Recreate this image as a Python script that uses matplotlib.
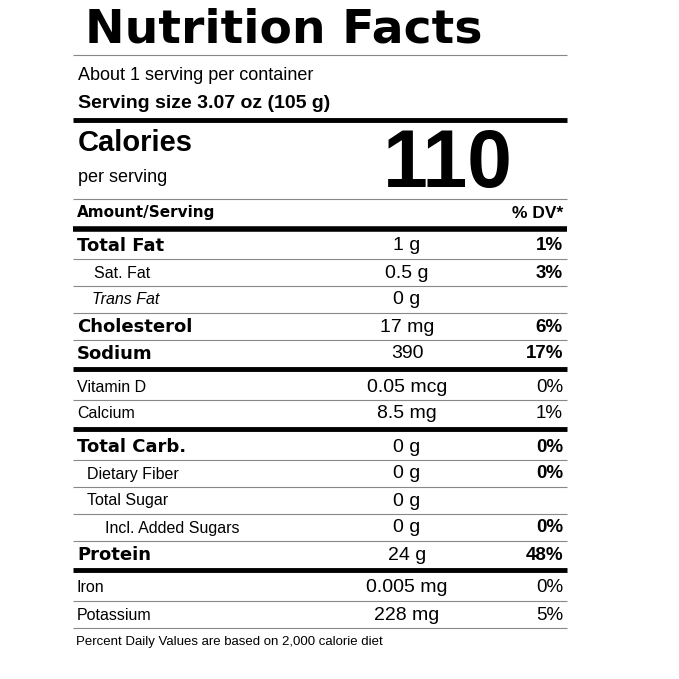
import matplotlib.pyplot as plt

nutrients = ["Total Fat", "Sat. Fat", "Trans Fat", "Cholesterol", "Sodium",
             "Vitamin D", "Calcium", "Total Carb.", "Dietary Fiber", "Total Sugar",
             "Incl. Added Sugars", "Protein", "Iron", "Potassium"]
amounts = ["1 g", "0.5 g", "0 g", "17 mg", "390", "0.05 mcg", "8.5 mg",
           "0 g", "0 g", "0 g", "0 g", "24 g", "0.005 mg", "228 mg"]
dv = ["1%", "3%", "", "6%", "17%", "0%", "1%", "0%", "0%", "", "0%", "48%", "0%", "5%"]
bold = [True, False, False, True, True, False, False, True, False, False, False, True, False, False]
italic = [False, False, True] + [False] * 11
indent = [0, 17, 15, 0, 0, 0, 0, 0, 10, 10, 28, 0, 0, 0]
dv_bold = [True, True, False, True, True, False, False, True, True, False, True, True, False, False]
row_y = [246, 273, 300, 327, 354, 387, 414, 447, 474, 501, 528, 555, 588, 615]
# line under each row: thick after Sodium, Calcium, Protein
thick_after = {4, 6, 11}

fig = plt.figure(figsize=(6.79, 6.79), dpi=100)
ax = fig.add_axes([0, 0, 1, 1])
ax.set_xlim(0, 679)
ax.set_ylim(679, 0)
ax.axis("off")

L, R = 73, 567
font = "Liberation Sans"

def hline(y, lw, c="#888888"):
    ax.plot([L, R], [y, y], color=c, lw=lw, solid_capstyle="butt")

ax.text(85, 30, "Nutrition Facts", fontsize=34, fontweight="heavy", family="DejaVu Sans",
        va="center", ha="left")
hline(55, 0.8)
ax.text(78, 75, "About 1 serving per container", fontsize=13, family=font, va="center")
ax.text(78, 103, "Serving size 3.07 oz (105 g)", fontsize=14, fontweight="bold", family=font, va="center")
hline(120, 3.5, "black")
ax.text(78, 143, "Calories", fontsize=21, fontweight="bold", family=font, va="center")
ax.text(78, 177, "per serving", fontsize=13, family=font, va="center")
ax.text(448, 166, "110", fontsize=58, fontweight="bold", family=font, va="center", ha="center")
hline(199, 0.8)
ax.text(77, 213, "Amount/Serving", fontsize=11, fontweight="bold", family="DejaVu Sans", va="center")
ax.text(563, 213, "% DV*", fontsize=12.5, fontweight="bold", family=font, va="center", ha="right")
hline(229, 4, "black")

for i, name in enumerate(nutrients):
    y = row_y[i]
    if bold[i]:
        ax.text(77, y, name, fontsize=13, fontweight="bold", family="DejaVu Sans", va="center")
    else:
        ax.text(77 + indent[i], y, name, fontsize=11.5, family=font, va="center",
                style="italic" if italic[i] else "normal")
    ax.text(407, y, amounts[i], fontsize=14, family=font, va="center", ha="center")
    ax.text(563, y, dv[i], fontsize=13.5, family=font, va="center", ha="right",
            fontweight="bold" if dv_bold[i] else "normal")
    if i in thick_after:
        hline(y + 15, 3.5, "black")
    else:
        hline(y + 13, 0.8)

ax.text(76, 642, "Percent Daily Values are based on 2,000 calorie diet", fontsize=9.5,
        family=font, va="center")

fig.savefig("out.png", dpi=100)
